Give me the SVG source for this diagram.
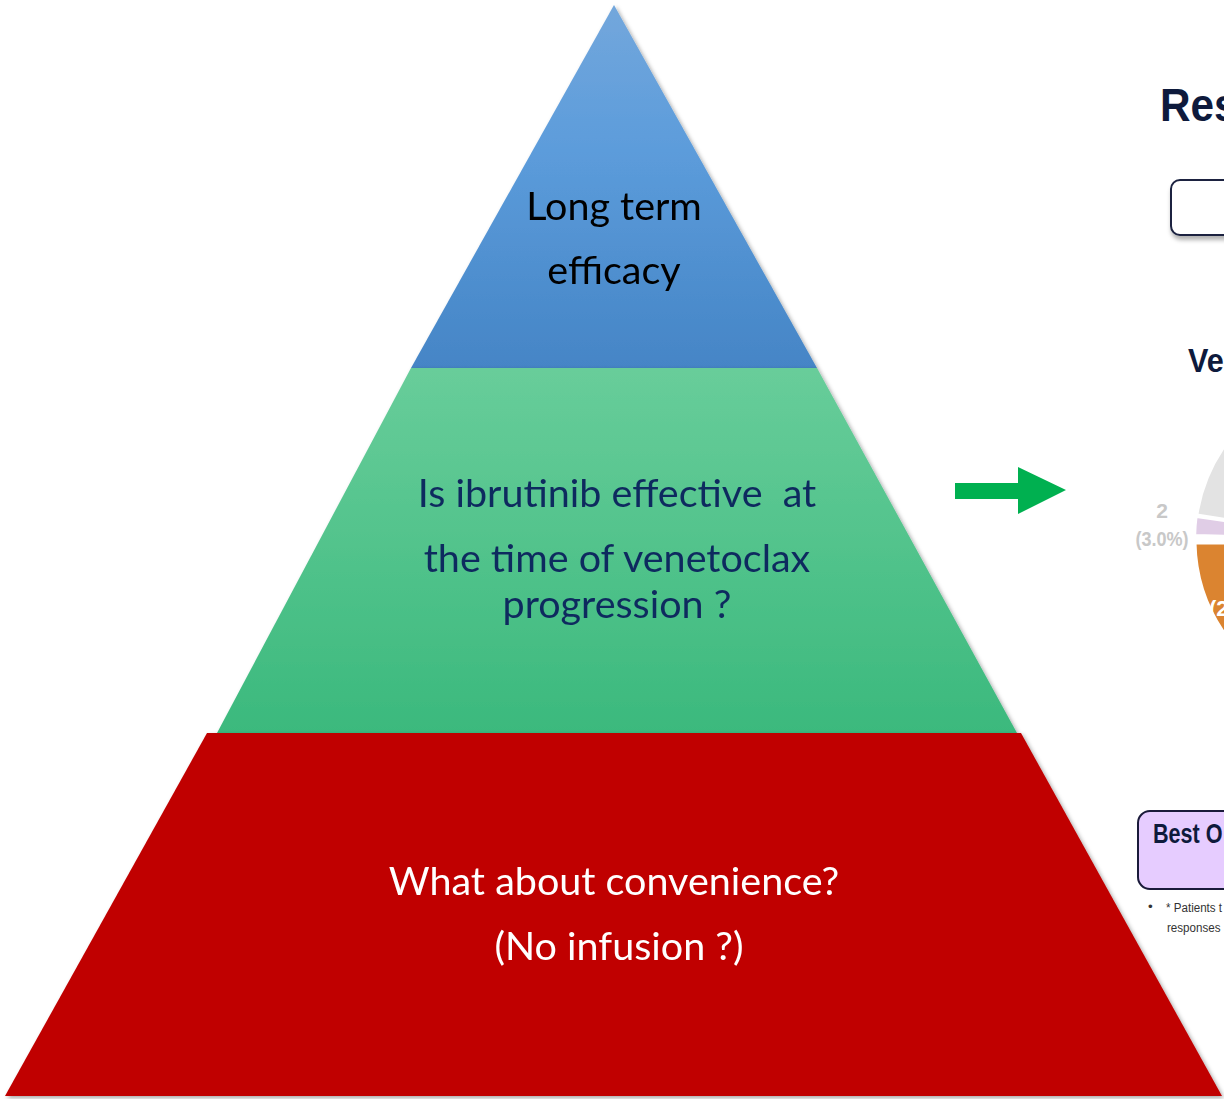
<svg xmlns="http://www.w3.org/2000/svg" width="1224" height="1099" viewBox="0 0 1224 1099">
  <defs>
    <linearGradient id="gBlue" x1="0" y1="0" x2="0" y2="1">
      <stop offset="0" stop-color="#73a7dc"/>
      <stop offset="0.4" stop-color="#5c9cdb"/>
      <stop offset="1" stop-color="#4585c6"/>
    </linearGradient>
    <linearGradient id="gGreen" x1="0" y1="0" x2="0" y2="1">
      <stop offset="0" stop-color="#68cd9a"/>
      <stop offset="1" stop-color="#3bb97d"/>
    </linearGradient>
    <filter id="shadow" x="-5%" y="-5%" width="110%" height="110%">
      <feDropShadow dx="2" dy="2" stdDeviation="2" flood-color="#000" flood-opacity="0.35"/>
    </filter>
    <filter id="boxShadow" x="-10%" y="-10%" width="120%" height="140%">
      <feDropShadow dx="1" dy="4" stdDeviation="2" flood-color="#000" flood-opacity="0.3"/>
    </filter>
  </defs>
  <style>
    .tier { font-family: "Lato", "Open Sans", sans-serif; text-anchor: middle; font-size: 39.5px; }
    .slide { font-family: "Liberation Sans", Arial, sans-serif; font-weight: bold; fill: #0e1a3c; }
    .note { font-family: "Liberation Sans", Arial, sans-serif; font-size: 13.5px; fill: #333333; }
    .pct { font-family: "Liberation Sans", Arial, sans-serif; font-size: 21px; font-weight: bold; fill: #c8c8c8; text-anchor: middle; }
  </style>

  <rect width="1224" height="1099" fill="#ffffff"/>

  <!-- Pyramid tiers -->
  <g id="tier-top" filter="url(#shadow)">
    <polygon points="614,5 817,368 411,368" fill="url(#gBlue)"/>
    <text class="tier" x="614" y="220" fill="#000000">Long term</text>
    <text class="tier" x="614" y="284" fill="#000000">efficacy</text>
  </g>

  <g id="tier-middle" filter="url(#shadow)">
    <polygon points="411,368 817,368 1017,733 217,733" fill="url(#gGreen)"/>
    <text class="tier" x="617" y="507" fill="#112a5f" xml:space="preserve">Is ibrutinib effective  at</text>
    <text class="tier" x="617" y="572" fill="#112a5f">the time of venetoclax</text>
    <text class="tier" x="617" y="618" fill="#112a5f">progression ?</text>
  </g>

  <g id="tier-bottom" filter="url(#shadow)">
    <polygon points="207,733 1021,733 1222,1096 5,1096" fill="#c00000"/>
    <text class="tier" x="614" y="895" fill="#ffffff">What about convenience?</text>
    <text class="tier" x="619" y="960" fill="#ffffff">(No infusion ?)</text>
  </g>

  <!-- Connectors -->
  <g id="connectors">
    <polygon points="955,483 1018,483 1018,467 1066,490 1018,514 1018,499 955,499" fill="#00b050"/>
  </g>

  <!-- Adjacent slide, cut off at the right edge -->
  <g id="side-slide">
    <text class="slide" x="1160" y="121" font-size="46" transform="translate(1160,0) scale(0.92,1) translate(-1160,0)">Res</text>
    <rect x="1171" y="180" width="80" height="55" rx="9" fill="#ffffff" stroke="#1a2240" stroke-width="2" filter="url(#boxShadow)"/>
    <text class="slide" x="1188" y="372" font-size="34" transform="translate(1188,0) scale(0.9,1) translate(-1188,0)">Ver</text>

    <!-- pie chart -->
    <path d="M1360,540 L1224,446.6 A165,165 0 0 0 1196.9,515 Z" fill="#e3e3e3" stroke="#ffffff" stroke-width="3"/>
    <path d="M1360,540 L1196.5,517 A165,165 0 0 0 1195.2,535 Z" fill="#e0cde6" stroke="#ffffff" stroke-width="2"/>
    <path d="M1360,542 L1195,543 A165,165 0 0 0 1224,633 Z" fill="#db8430" stroke="#ffffff" stroke-width="3"/>
    <text class="pct" x="1162" y="518">2</text>
    <text class="pct" x="1162" y="546" transform="translate(1162,0) scale(0.86,1) translate(-1162,0)">(3.0%)</text>
    <text x="1209" y="616" font-family="Liberation Sans, Arial, sans-serif" font-size="22" font-weight="bold" fill="#ffffff">(2</text>

    <!-- response box -->
    <rect x="1138" y="811" width="110" height="78" rx="12" fill="#e6ccff" stroke="#1a1a3a" stroke-width="2"/>
    <text class="slide" x="1153" y="843" font-size="27" transform="translate(1153,0) scale(0.8,1) translate(-1153,0)">Best O</text>
    <text class="note" x="1148" y="911">•</text>
    <text class="note" x="1166" y="912" transform="translate(1166,0) scale(0.86,1) translate(-1166,0)">* Patients t</text>
    <text class="note" x="1167" y="932" transform="translate(1167,0) scale(0.86,1) translate(-1167,0)">responses</text>
  </g>
</svg>
